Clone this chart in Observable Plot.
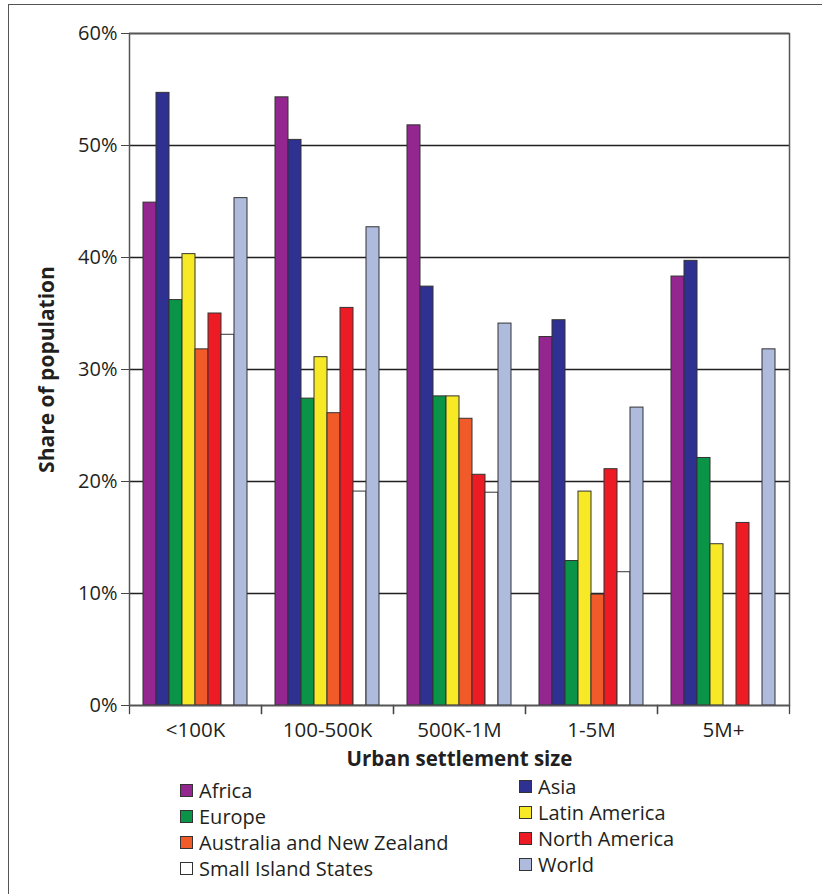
<!DOCTYPE html>
<html>
<head>
<meta charset="utf-8">
<script src="https://cdn.jsdelivr.net/npm/d3@7"></script>
<script src="https://cdn.jsdelivr.net/npm/@observablehq/plot@0.6"></script>
<style>
  html, body { margin: 0; padding: 0; background: #fff; overflow: hidden; }
  body { width: 822px; height: 894px; position: relative; font-family: "Open Sans", sans-serif; color: #231f20; }
  #border { position: absolute; left: 8px; top: 4px; width: 840px; height: 920px; border: 1.5px solid #555; box-sizing: border-box; }
  #chart { position: absolute; left: 0; top: 0; }
  #chart svg { overflow: visible; }
  g[aria-label="fx-axis label"] text { font-weight: bold; font-size: 20.5px; }
  g[aria-label="y-axis label"] text { font-weight: bold; font-size: 21px; }
  #legend { position: absolute; left: 0; top: 0; font-size: 20px; }
  .item { position: absolute; display: flex; align-items: center; white-space: nowrap; }
  .sw { width: 11px; height: 11px; border: 1px solid #333; margin-right: 6px; }
</style>
</head>
<body>
<div id="border"></div>
<div id="chart"></div>
<div id="legend"></div>
<script>
const groups = ["<100K", "100-500K", "500K-1M", "1-5M", "5M+"];
const series = ["Africa", "Asia", "Europe", "Latin America", "Australia and New Zealand", "North America", "Small Island States", "World"];
const colors = ["#93278f", "#2e3192", "#0a9447", "#f8e927", "#f15a29", "#ed1c24", "#ffffff", "#aebbdd"];

const africa = [44.9, 54.3, 51.8, 32.9, 38.3];
const asia = [54.7, 50.5, 37.4, 34.4, 39.7];
const europe = [36.2, 27.4, 27.6, 12.9, 22.1];
const latinAmerica = [40.3, 31.1, 27.6, 19.1, 14.4];
const australiaNZ = [31.8, 26.1, 25.6, 9.9, null];
const northAmerica = [35.0, 35.5, 20.6, 21.1, 16.3];
const smallIslandStates = [33.1, 19.1, 19.0, 11.9, null];
const world = [45.3, 42.7, 34.1, 26.6, 31.8];

const yTicks = [0, 10, 20, 30, 40, 50, 60];

const valuesBySeries = [africa, asia, europe, latinAmerica, australiaNZ, northAmerica, smallIslandStates, world];
const data = [];
groups.forEach((g, gi) => {
  series.forEach((s, si) => {
    const v = valuesBySeries[si][gi];
    if (v != null) data.push({group: g, series: s, value: v});
  });
});

const W = 822, H = 775, mt = 33, mb = 70, ml = 127, mr = 32;
const innerH = H - mt - mb;

const chart = Plot.plot({
  width: W,
  height: H,
  marginTop: mt,
  marginBottom: mb,
  marginLeft: ml,
  marginRight: mr,
  style: {fontFamily: "'Open Sans', sans-serif", fontSize: "20px", color: "#231f20", background: "transparent"},
  fx: {domain: groups, padding: 0},
  x: {domain: series, paddingInner: 0, paddingOuter: 0.74, axis: null},
  y: {domain: [0, 60]},
  color: {domain: series, range: colors},
  marks: [
    Plot.ruleY(yTicks, {stroke: "#231f20", strokeWidth: 1.3}),
    Plot.barY(data, {fx: "group", x: "series", y: "value", fill: "series", stroke: "#333", strokeWidth: 1}),
    Plot.frame({anchor: "left", insetTop: innerH, insetBottom: -8, stroke: "#444", strokeWidth: 1.3}),
    Plot.frame({anchor: "right", insetTop: innerH, insetBottom: -8, stroke: "#444", strokeWidth: 1.3}),
    Plot.frame({facet: "super", stroke: "#555", strokeWidth: 1.5, fill: "none"}),
    Plot.axisY({ticks: yTicks, tickFormat: d => d + "%", tickSize: 8, tickPadding: 4, fontSize: 20, stroke: "#444",
      label: "Share of population", labelAnchor: "center", labelArrow: "none", labelOffset: 90}),
    Plot.axisFx({anchor: "bottom", tickSize: 0, tickPadding: 17, fontSize: 20.5,
      label: "Urban settlement size", labelAnchor: "center", labelArrow: "none", labelOffset: 60})
  ]
});
document.getElementById("chart").appendChild(chart);

// legend (two columns, row-major)
const legend = document.getElementById("legend");
series.forEach((s, i) => {
  const col = i % 2, row = Math.floor(i / 2);
  const item = document.createElement("div");
  item.className = "item";
  item.style.left = (col === 0 ? 180 : 519) + "px";
  item.style.top = ((col === 0 ? 777 : 773) + row * 26) + "px";
  const sw = document.createElement("span");
  sw.className = "sw";
  sw.style.background = colors[i];
  const t = document.createElement("span");
  t.textContent = s;
  item.appendChild(sw);
  item.appendChild(t);
  legend.appendChild(item);
});
</script>
</body>
</html>
